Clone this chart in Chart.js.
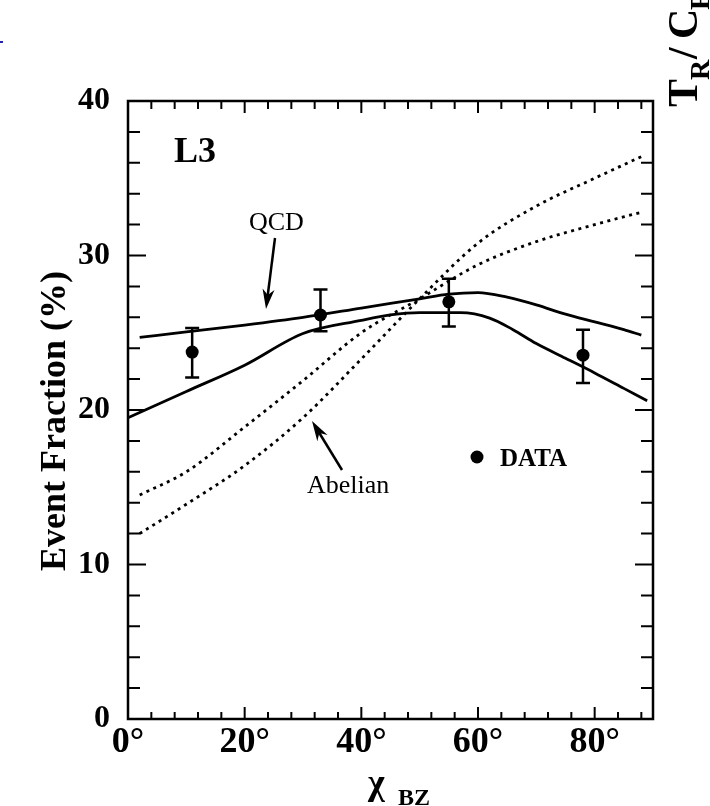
<!DOCTYPE html>
<html lang="en">
<head>
<meta charset="utf-8">
<title>Event Fraction vs χ BZ</title>
<script src="https://cdn.jsdelivr.net/npm/chart.js"></script>
<style>
  body{margin:0;padding:0;background:#fff}
  canvas{display:block}
</style>
</head>
<body>
<canvas id="chart" width="710" height="806"></canvas>
<script>
// tick labels
const xTicks = [0, 20, 40, 60, 80];
const yTicks = [0, 10, 20, 30, 40];

// QCD predictions (solid)
const qcdUpperX = [2, 10, 20, 30, 40, 50, 55, 60, 65, 70, 75, 80, 85, 88];
const qcdUpperY = [24.7, 25.05, 25.5, 26.0, 26.6, 27.2, 27.5, 27.6, 27.3, 26.8, 26.2, 25.7, 25.2, 24.85];
const qcdLowerX = [0, 10, 20, 30, 40, 45, 50, 57, 62, 66, 70, 75, 80, 85, 89];
const qcdLowerY = [19.5, 21.2, 22.9, 24.95, 25.8, 26.15, 26.3, 26.3, 25.95, 25.2, 24.3, 23.35, 22.4, 21.4, 20.6];

// Abelian predictions (dotted)
const abelAX = [2, 10, 20, 30, 40, 50, 60, 70, 80, 88];
const abelAY = [14.5, 16.0, 18.9, 21.9, 25.0, 27.2, 29.4, 30.9, 32.0, 32.8];
const abelBX = [2, 10, 20, 30, 40, 50, 60, 70, 80, 88];
const abelBY = [12.0, 13.9, 16.4, 19.5, 23.3, 27.2, 30.8, 33.2, 35.0, 36.4];

// measured points with errors
const dataX  = [11, 33, 55, 78];
const dataY  = [23.75, 26.15, 27.0, 23.55];
const dataLo = [22.1, 25.1, 25.4, 21.75];
const dataHi = [25.3, 27.8, 28.5, 25.2];

const pts = (xs, ys) => xs.map((x, i) => ({x, y: ys[i]}));
const SERIF = '"Liberation Serif", "DejaVu Serif", serif';

function arrow(ctx, x1, y1, x2, y2, len, half){
  const a = Math.atan2(y2 - y1, x2 - x1);
  ctx.beginPath();
  ctx.moveTo(x1, y1);
  ctx.lineTo(x2 - Math.cos(a) * len * 0.6, y2 - Math.sin(a) * len * 0.6);
  ctx.stroke();
  ctx.beginPath();
  ctx.moveTo(x2, y2);
  ctx.lineTo(x2 - Math.cos(a) * len + Math.sin(a) * half, y2 - Math.sin(a) * len - Math.cos(a) * half);
  ctx.lineTo(x2 - Math.cos(a) * len * 0.7, y2 - Math.sin(a) * len * 0.7);
  ctx.lineTo(x2 - Math.cos(a) * len - Math.sin(a) * half, y2 - Math.sin(a) * len + Math.cos(a) * half);
  ctx.closePath();
  ctx.fill();
}

const decorations = {
  id: 'decorations',
  afterDatasetsDraw(chart){
    const {ctx, chartArea: a, scales: {x, y}} = chart;
    ctx.save();
    ctx.strokeStyle = '#000';
    ctx.fillStyle = '#000';

    // error bars
    ctx.lineWidth = 2.5;
    dataX.forEach((v, i) => {
      const px = x.getPixelForValue(v);
      const top = y.getPixelForValue(dataHi[i]);
      const bot = y.getPixelForValue(dataLo[i]);
      ctx.beginPath();
      ctx.moveTo(px, top); ctx.lineTo(px, bot);
      ctx.moveTo(px - 7, top); ctx.lineTo(px + 7, top);
      ctx.moveTo(px - 7, bot); ctx.lineTo(px + 7, bot);
      ctx.stroke();
    });

    // frame
    ctx.lineWidth = 2.5;
    ctx.strokeRect(a.left, a.top, a.right - a.left, a.bottom - a.top);

    // inward ticks
    ctx.lineWidth = 2;
    ctx.beginPath();
    for (let v = 0; v <= 88; v += 4){
      const px = x.getPixelForValue(v);
      const major = v % 20 === 0;
      ctx.moveTo(px, a.bottom); ctx.lineTo(px, a.bottom - (major ? 12 : 7));
      ctx.moveTo(px, a.top);    ctx.lineTo(px, a.top + (major ? 12 : 8));
    }
    for (let v = 0; v <= 40; v += 2){
      const py = y.getPixelForValue(v);
      const major = v % 10 === 0;
      ctx.moveTo(a.left, py);  ctx.lineTo(a.left + (major ? 18 : 12), py);
      ctx.moveTo(a.right, py); ctx.lineTo(a.right - (major ? 18 : 12), py);
    }
    ctx.stroke();

    // labels inside the frame
    ctx.textBaseline = 'alphabetic';
    ctx.textAlign = 'left';
    ctx.font = 'bold 36px ' + SERIF;
    ctx.fillText('L3', 174, 162);

    ctx.font = '26px ' + SERIF;
    ctx.fillText('QCD', 249, 230);
    ctx.fillText('Abelian', 307, 493);

    ctx.lineWidth = 2.5;
    arrow(ctx, 275, 238, 266, 309, 20, 6);
    arrow(ctx, 342, 470, 312, 421, 20, 6);

    ctx.beginPath();
    ctx.arc(477, 457, 6.5, 0, Math.PI * 2);
    ctx.fill();
    ctx.font = 'bold 25px ' + SERIF;
    ctx.fillText('DATA', 500, 466);

    // axis titles
    ctx.save();
    ctx.translate(65, 421);
    ctx.rotate(-Math.PI / 2);
    ctx.textAlign = 'center';
    ctx.font = 'bold 36px ' + SERIF;
    ctx.fillText('Event Fraction (%)', 0, 0);
    ctx.restore();

    ctx.font = 'bold 36px ' + SERIF;
    ctx.fillText('χ', 368, 794);
    ctx.font = 'bold 24px ' + SERIF;
    ctx.fillText('BZ', 398, 805);

    // neighbouring panel's axis title, clipped at the edge
    ctx.save();
    ctx.translate(697, 107);
    ctx.rotate(-Math.PI / 2);
    ctx.font = 'bold 42px ' + SERIF;
    ctx.fillText('T', 0, 0);
    ctx.font = 'bold 28px ' + SERIF;
    ctx.fillText('R', 27, 12);
    ctx.font = 'bold 42px ' + SERIF;
    ctx.fillText('/', 48, 0);
    ctx.fillText('C', 68, 0);
    ctx.font = 'bold 28px ' + SERIF;
    ctx.fillText('F', 97, 12);
    ctx.restore();

    ctx.fillStyle = '#2424a8';
    ctx.fillRect(0, 41, 3, 2);
    ctx.restore();
  }
};

const solid = {showLine: true, borderColor: '#000', borderWidth: 2.8, pointRadius: 0, cubicInterpolationMode: 'monotone', fill: false};
const dotted = {...solid, borderWidth: 2.8, borderDash: [3, 4.5]};

new Chart(document.getElementById('chart'), {
  type: 'scatter',
  data: {
    datasets: [
      {...solid, label: 'QCD', data: pts(qcdUpperX, qcdUpperY)},
      {...solid, label: 'QCD (2)', data: pts(qcdLowerX, qcdLowerY)},
      {...dotted, label: 'Abelian', data: pts(abelAX, abelAY)},
      {...dotted, label: 'Abelian (2)', data: pts(abelBX, abelBY)},
      {label: 'DATA', data: pts(dataX, dataY), showLine: false,
       pointRadius: 6.5, pointBackgroundColor: '#000', pointBorderColor: '#000', pointBorderWidth: 0}
    ]
  },
  options: {
    responsive: false,
    animation: false,
    layout: {padding: {left: 0, top: 101, right: 57, bottom: 0}},
    plugins: {legend: {display: false}, tooltip: {enabled: false}},
    scales: {
      x: {
        type: 'linear', min: 0, max: 90,
        afterBuildTicks(s){ s.ticks = xTicks.map(v => ({value: v})); },
        afterFit(s){ s.height = 87; },
        grid: {display: false, drawTicks: false},
        border: {display: false},
        ticks: {color: '#000', padding: 2, maxRotation: 0,
                font: {family: SERIF, size: 36, weight: 'bold'},
                callback: v => v + '°'}
      },
      y: {
        type: 'linear', min: 0, max: 40,
        afterBuildTicks(s){ s.ticks = yTicks.map(v => ({value: v})); },
        afterFit(s){ s.width = 128; },
        grid: {display: false, drawTicks: false},
        border: {display: false},
        ticks: {color: '#000', padding: 18,
                font: {family: SERIF, size: 32, weight: 'bold'}}
      }
    }
  },
  plugins: [decorations]
});
</script>
</body>
</html>
